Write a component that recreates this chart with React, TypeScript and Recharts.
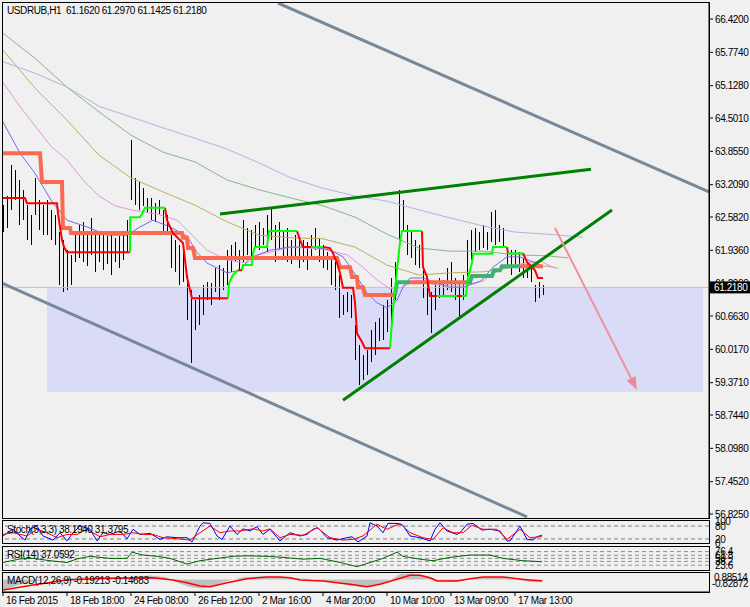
import {
  ComposedChart,
  Bar,
  Line,
  Area,
  XAxis,
  YAxis,
  ReferenceLine,
  ReferenceArea,
} from "recharts";

const FONT = "'Liberation Sans', Arial, sans-serif";
const X_DOMAIN: [number, number] = [-0.25, 176.5];
const PRICE_DOMAIN: [number, number] = [56.748, 66.75];

type Pt = [number, number | null];

// hourly bars, one every 4px
const highs = [
  62.81, 62.99, 63.59, 63.49, 63.3, 63.11, 62.81, 62.62, 63.34, 62.91,
  62.81, 62.91, 62.72, 62.62, 62.29, 62.14, 61.94, 61.84, 62.29, 62.43,
  62.49, 62.29, 62.56, 62.33, 62.25, 62.29, 62.21, 62.29, 62.18, 62.21,
  62.27, 62.52, 64.07, 63.34, 63.26, 63.14, 62.95, 62.95, 62.85, 62.91,
  62.72, 62.62, 62.37, 62.14, 62.04, 61.94, 61.46, 61.17, 60.97, 61.07,
  61.26, 61.32, 61.3, 61.59, 61.65, 61.59, 61.94, 62.04, 62.1, 61.94,
  62.52, 62.37, 62.33, 62.43, 62.49, 62.37, 62.62, 62.76, 62.43, 62.49,
  62.33, 62.37, 62.14, 62.23, 62.18, 62.14, 62.1, 62.23, 62.37, 62.18,
  62.04, 61.9, 61.79, 61.71, 61.46, 61.07, 61.13, 61.07, 60.49, 60.1,
  59.91, 60.01, 60.39, 60.55, 60.63, 60.88, 60.97, 61.4, 61.71, 63.11,
  62.91, 62.43, 62.33, 62.14, 62.04, 61.59, 61.36, 61.13, 61.32, 61.4,
  61.36, 61.59, 61.71, 61.4, 61.32, 61.46, 62.14, 62.33, 62.37, 62.29,
  62.43, 62.29, 62.68, 62.72, 62.43, 62.37, 61.94, 61.94, 61.94, 61.9,
  61.79, 61.71, 61.59, 61.26, 61.32, 61.26,
];
const lows = [
  62.29, 62.37, 62.72, 62.91, 62.43, 62.52, 62.14, 62.04, 62.62, 62.33,
  62.23, 62.23, 62.14, 62.04, 61.26, 61.13, 61.17, 61.26, 61.71, 61.79,
  61.71, 61.63, 61.84, 61.52, 61.71, 61.56, 61.67, 61.46, 61.71, 61.59,
  61.75, 61.9, 62.91, 62.81, 62.72, 62.79, 62.66, 62.52, 62.49, 62.64,
  62.29, 62.23, 61.59, 61.52, 61.26, 61.32, 60.59, 59.75, 60.39, 60.49,
  60.68, 60.97, 60.88, 61.13, 60.97, 61.17, 61.26, 61.52, 61.71, 61.56,
  61.71, 61.84, 61.75, 61.98, 61.94, 62.04, 61.9, 62.14, 61.71, 61.94,
  61.79, 61.71, 61.67, 61.79, 61.59, 61.71, 61.56, 61.79, 61.94, 61.71,
  61.59, 61.56, 61.26, 61.17, 60.63, 60.68, 60.74, 60.63, 59.81, 59.33,
  59.42, 59.52, 59.78, 59.91, 60.17, 60.2, 60.36, 60.55, 60.97, 62.14,
  62.29, 61.84, 61.79, 61.65, 61.59, 61.01, 60.68, 60.33, 60.78, 61.01,
  61.05, 61.17, 61.13, 60.97, 60.63, 60.97, 61.32, 61.75, 61.9, 61.94,
  61.98, 61.94, 62.1, 62.04, 62.1, 61.98, 61.59, 61.46, 61.65, 61.52,
  61.4, 61.4, 61.32, 60.93, 61.01, 61.07,
];
const lastPrice = 61.218;

const priceTicks = [
  66.42, 65.774, 65.128, 64.501, 63.855, 63.209, 62.582, 61.936, 61.29,
  60.663, 60.017, 59.371, 58.744, 58.098, 57.452, 56.825,
];
const timeTicks = [0, 16, 32, 48, 64, 80, 96, 112, 128];
const timeLabels = [
  "16 Feb 2015", "18 Feb 18:00", "24 Feb 08:00", "26 Feb 12:00", "2 Mar 16:00",
  "4 Mar 20:00", "10 Mar 10:00", "13 Mar 09:00", "17 Mar 13:00",
];

// moving averages
const maGreen: Pt[] = [
  [-0.25, 66.16], [8, 65.66], [16, 65.1], [24, 64.62], [32, 64.17], [40, 63.84],
  [48, 63.65], [56, 63.3], [64, 63.11], [72, 62.95], [80, 62.8], [88, 62.58],
  [96, 62.25], [104, 61.98], [112, 61.92], [120, 61.92], [128, 61.85], [136, 61.83],
  [141.25, 61.79],
];
const maOlive: Pt[] = [
  [-0.25, 65.84], [8, 65.08], [16, 64.46], [24, 63.78], [32, 63.34], [40, 63.07],
  [48, 62.81], [56, 62.49], [64, 62.23], [72, 62.18], [80, 62.16], [88, 62.0],
  [96, 61.65], [104, 61.46], [112, 61.5], [120, 61.52], [128, 61.61], [136, 61.63],
  [138.75, 61.59],
];
const maLavender: Pt[] = [
  [-0.25, 65.6], [8, 65.37], [16, 65.1], [24, 64.73], [32, 64.52], [40, 64.31],
  [48, 64.11], [56, 63.9], [64, 63.63], [72, 63.34], [80, 63.14], [88, 62.99],
  [96, 62.89], [104, 62.72], [112, 62.56], [120, 62.41], [128, 62.29], [136, 62.25],
  [145, 62.19],
];
const maPink: Pt[] = [
  [-0.25, 65.22], [4, 64.75], [8, 64.35], [12, 63.95], [16, 63.69], [20, 63.3],
  [24, 62.99], [28, 62.8], [32, 62.72], [38.5, 62.64], [43.5, 62.52], [46.75, 62.27],
  [51, 61.94], [56, 61.75], [61, 61.69], [64, 61.85], [72, 62.0], [80, 61.96],
  [86, 61.85], [90, 61.61], [93.5, 61.36], [96.75, 61.19], [99.25, 61.21],
  [103.5, 61.36], [108.5, 61.26], [115, 61.26], [120, 61.34], [122, 61.46],
  [126, 61.63], [134.25, 61.73], [138, 61.59],
];
const maPurple: Pt[] = [
  [-0.25, 64.46], [4.25, 63.82], [8, 63.43], [12, 62.91], [16, 62.52], [21, 62.39],
  [26, 62.23], [31, 62.23], [34.25, 62.39], [37.5, 62.52], [41.75, 62.39],
  [46, 62.21], [48.5, 61.9], [51, 61.69], [56, 61.5], [59.25, 61.55], [61.75, 61.79],
  [66.75, 61.94], [71.75, 62.0], [77.5, 62.0], [81.75, 61.94], [85, 61.81],
  [88.5, 61.42], [91, 61.11], [93.5, 60.92], [96, 60.82], [98.5, 60.97], [100, 61.22],
  [101.75, 61.4], [105, 61.4], [108.5, 61.3], [111.75, 61.22], [115, 61.22],
  [119.5, 61.34], [122.5, 61.61], [126, 61.81], [129.25, 61.81], [132.5, 61.71],
  [134.25, 61.65],
];

// base line (thick) and conversion line (thin), split by colour
const kijunDown: Pt[] = [
  [-0.25, 63.82], [9.25, 63.82], [9.75, 63.26], [14.75, 63.26], [15, 62.37],
  [16.75, 62.37], [17, 62.27], [44.75, 62.27], [45, 62.18], [46, 62.18],
  [46.25, 61.98], [47.5, 61.98], [48, 61.79], [83.5, 61.79], [84.25, 61.61],
  [86.75, 61.61], [87.25, 61.42], [88.5, 61.42], [88.75, 61.22], [90, 61.22],
  [90.5, 61.07], [98, 61.07], [99, null],
  [101.75, 61.32], [115.5, 61.32], [116, null],
  [129.25, 61.63], [135, 61.63],
];
const kijunUp: Pt[] = [
  [98, 61.07], [98.5, 61.32], [101.75, 61.32], [102, null],
  [115.5, 61.32], [116.75, 61.32], [117.25, 61.44], [122.25, 61.44], [122.75, 61.55],
  [124.25, 61.55], [124.75, 61.63], [129.25, 61.63],
];
const tenkanDown: Pt[] = [
  [-0.25, 62.95], [5.5, 62.95], [6, 62.85], [13.5, 62.85], [13.75, 62.66],
  [14.25, 62.39], [14.75, 62.14], [15.25, 62.0], [16, 61.9], [31.75, 61.9], [32, null],
  [40.5, 62.76], [41, 62.52], [41.75, 62.39], [42.5, 62.27], [45, 62.08],
  [45.5, 61.75], [46, 61.42], [46.75, 61.17], [47.25, 61.01], [56.25, 61.01], [57, null],
  [58.75, 61.55], [59.75, 61.55], [59.9, null],
  [73.5, 62.31], [74.25, 62.14], [75, 62.0], [77, 62.0], [78, null],
  [80, 62.0], [81.75, 61.98], [82.5, 61.88], [83.5, 61.69], [84.25, 61.5],
  [85, 61.21], [87.5, 61.21], [88, 60.93], [88.5, 60.33], [89.75, 60.16],
  [90.5, 60.04], [96.75, 60.04], [97, null],
  [104.75, 62.31], [105, 61.61], [106, 61.42], [106.75, 61.05], [108.5, 61.05], [109, null],
  [113.5, 61.05], [114.75, 61.05], [115, null],
  [126, 62.0], [126.25, 61.88], [127, null],
  [130, 61.88], [131, 61.71], [131.75, 61.65], [133, 61.55], [133.75, 61.4], [135, 61.4],
];
const tenkanUp: Pt[] = [
  [31.75, 61.9], [31.8, 62.58], [34.25, 62.58], [34.75, 62.64], [35.5, 62.76],
  [40.5, 62.76], [41, null],
  [56.25, 61.01], [56.5, 61.3], [57.5, 61.46], [58.75, 61.55], [59, null],
  [59.75, 61.55], [60, 61.65], [62.25, 61.65], [62.5, 61.88], [63, 62.0], [66, 62.0],
  [66.5, 62.31], [73.5, 62.31], [74, null],
  [77, 62.0], [80, 62.0], [80.5, null],
  [96.75, 60.04], [97.5, 60.78], [98.5, 61.55], [99.25, 62.1], [99.75, 62.31],
  [104.75, 62.31], [105, null],
  [108.5, 61.05], [113.5, 61.05], [114, null],
  [114.75, 61.05], [115.75, 61.05], [116.25, 61.42], [117.25, 61.69], [117.5, 61.87],
  [122.25, 61.87], [122.5, 62.0], [126, 62.0], [126.1, null],
  [126.25, 61.88], [130, 61.88],
];

// drawn objects
const upperTrend: Pt[] = [[54.25, 62.64], [147, 63.51]];
const lowerTrend: Pt[] = [[85, 59.03], [152.25, 62.72]];
const channelTop: Pt[] = [[68.75, 66.73], [176.5, 63.07]];
const channelBottom: Pt[] = [[-0.25, 61.3], [131, 56.77]];
const forecast: Pt[] = [[138, 62.37], [158.5, 59.23]];
const targetZone = { from: 11, to: 175, low: 59.19, high: 61.207 };

// Stochastic (5,3,3)
const stochMain: Pt[] = [
  [0, 34], [1.75, 57], [2.5, 65], [4.25, 34], [5.5, 15], [6.75, 66], [8.5, 80],
  [10, 34], [12.5, 15], [14.25, 49], [16, 11], [17.5, 49], [19.25, 80], [21.75, 65],
  [23.5, 11], [25, 49], [26.75, 41], [29.25, 57], [31, 21], [32.5, 65], [34.25, 41],
  [36.75, 46], [39.25, 18], [41, 30], [43.5, 26], [46, 26], [47.25, 6], [49.25, 80],
  [50, 95], [51.75, 92], [53.5, 34], [54.75, 18], [56.75, 80], [58.5, 41], [60, 67],
  [61.75, 57], [63.5, 77], [65, 41], [66.75, 65], [69.25, 11], [71.75, 49],
  [74.25, 34], [76, 41], [77.5, 65], [78.75, 72], [81, 26], [83.5, 15], [86, 26],
  [87.25, 30], [88.75, 6], [91, 34], [91.75, 95], [93.5, 80], [95, 49], [96.25, 92],
  [98.5, 92], [100, 83], [101.75, 34], [104.25, 26], [106.75, 11], [108, 65],
  [109.25, 95], [111, 57], [113.5, 41], [114.25, 49], [116, 88], [117.5, 92],
  [119.75, 61], [121.75, 65], [124.25, 57], [126, 11], [126.75, 11], [129.25, 80],
  [131, 18], [132.5, 15], [133.5, 30], [134.75, 38],
];
const stochSignal: Pt[] = [
  [0, 41], [2.5, 49], [6, 34], [8.5, 65], [11, 49], [13.5, 26], [16, 41], [18.5, 41],
  [21, 65], [24.25, 30], [26.75, 41], [30, 41], [32.5, 49], [35, 41], [37.5, 41],
  [40, 26], [43.5, 21], [46.75, 15], [49.25, 49], [51.75, 80], [54.25, 49],
  [56.75, 57], [59.25, 57], [62.5, 67], [65, 57], [66.75, 67], [69.25, 26],
  [71.75, 41], [75, 37], [78.5, 72], [81.75, 26], [85, 15], [87.5, 18], [90, 34],
  [93.5, 88], [96, 65], [99.25, 92], [101.75, 49], [105, 26], [107.5, 18], [110, 72],
  [112.5, 49], [115, 49], [117.25, 83], [120, 65], [123.5, 65], [126, 18],
  [129.25, 65], [131.75, 26], [134.75, 31],
];
const stochLevels = [80, 20];

// RSI(14)
const rsi: Pt[] = [
  [0, 34], [4.25, 48], [7.5, 50], [11.75, 41], [16, 34], [18.5, 48], [21.75, 58],
  [26.75, 50], [31, 50], [32.25, 74], [35, 63], [38.5, 58], [41.75, 50], [46, 28],
  [49.25, 41], [53.5, 50], [57.5, 58], [61, 60], [66, 58], [70, 54], [75, 47],
  [79.25, 50], [83.5, 37], [88.5, 18], [91.75, 34], [95, 50], [98.5, 74], [100, 58],
  [104.25, 47], [107.5, 41], [111.75, 54], [116.75, 63], [121.75, 63], [125, 50],
  [130, 41], [134.75, 37],
];
const rsiLevels = [76.4, 61.8, 50, 38.2, 23.6];

// MACD(12,26,9)
const macdMain: Pt[] = [
  [0, -1.05], [3, -0.65], [8, -0.15], [16, 0.15], [24.25, 0.25], [32.5, 0.25],
  [36.75, 0.4], [40.5, 0.25], [43.75, -0.35], [46.75, -0.75], [50, -0.9], [53, -0.55],
  [56.75, -0.05], [60.5, 0.25], [65.5, 0.3], [71.75, 0.2], [76.75, 0.05], [82.5, -0.25],
  [86.75, -0.6], [90.5, -0.8], [94.25, -0.45], [96.75, -0.05], [99.25, 0.55],
  [102.25, 0.63], [105.5, 0.35], [109.25, -0.05], [113, -0.25], [116.25, 0.05],
  [121.25, 0.3], [125.5, 0.2], [128.75, -0.05], [131.75, -0.25], [135, -0.19],
];
const macdSignal: Pt[] = [
  [0, -1.05], [7.5, -0.55], [16, -0.05], [24.25, 0.1], [32.5, 0.15], [37.5, 0.18],
  [42.5, -0.05], [46, -0.32], [49.25, -0.65], [51.75, -0.72], [56, -0.32], [61, 0.08],
  [66, 0.25], [69.25, 0.25], [71.75, 0.18], [74.25, -0.05], [80, -0.15], [83.5, -0.32],
  [86.75, -0.48], [91, -0.72], [94.25, -0.48], [98.5, 0.02], [101.75, 0.42],
  [104.25, 0.42], [106.75, 0.18], [108.5, -0.15], [113.5, -0.15], [116.75, 0.08],
  [120, 0.25], [125, 0.25], [128.5, 0.08], [131.75, -0.05], [134.75, -0.15],
];

const rows = (pts: Pt[]) => pts.map(([i, v]) => ({ i, v }));
const seg = (pts: Pt[]) => pts.map(([x, y]) => ({ x, y: y as number }));
const bars = highs.map((h, i) => ({ i, hl: [lows[i], h] }));

const line = (key: string, pts: Pt[], color: string, width: number) => (
  <Line
    key={key}
    data={rows(pts)}
    dataKey="v"
    type="linear"
    stroke={color}
    strokeWidth={width}
    dot={false}
    activeDot={false}
    connectNulls={false}
    isAnimationActive={false}
  />
);

const textStyle = { fontSize: 10, fontFamily: FONT, fill: "#000", letterSpacing: "-0.4px" };

// the last price is drawn last, as a black tag over the scale
const PriceTick = (props: any) => {
  const { x, y, payload } = props;
  if (payload.value === lastPrice) {
    return (
      <g>
        <rect x={x - 5} y={y - 6} width={40} height={12} fill="#000" />
        <text x={x - 1} y={y} dy="0.36em" style={{ ...textStyle, fill: "#fff" }}>
          {lastPrice.toFixed(4)}
        </text>
      </g>
    );
  }
  return (
    <text x={x} y={y} dy="0.36em" style={textStyle}>
      {Number(payload.value).toFixed(4)}
    </text>
  );
};

const LevelTick = (props: any) => {
  const { x, y, payload } = props;
  return (
    <text x={x} y={y} dy="0.36em" style={textStyle}>
      {payload.value}
    </text>
  );
};

const TimeTick = (props: any) => {
  const { x, y, payload } = props;
  return (
    <text x={x + 3} y={y} dy={8} style={textStyle}>
      {timeLabels[timeTicks.indexOf(payload.value)]}
    </text>
  );
};

const ArrowShape = (p: any) => {
  const { x1, y1, x2, y2 } = p;
  const a = Math.atan2(y2 - y1, x2 - x1);
  const bx = x2 - 13 * Math.cos(a);
  const by = y2 - 13 * Math.sin(a);
  const w = 5;
  const pts = `${x2},${y2} ${bx + w * Math.sin(a)},${by - w * Math.cos(a)} ${bx - w * Math.sin(a)},${by + w * Math.cos(a)}`;
  return (
    <g>
      <line x1={x1} y1={y1} x2={bx} y2={by} stroke="#f0909a" strokeWidth={2} />
      <polygon points={pts} fill="#ee8a94" />
    </g>
  );
};

const Stick = (p: any) => (
  <rect x={Math.round(p.x + p.width / 2)} y={p.y} width={1} height={Math.max(p.height, 1)} fill="#000" shapeRendering="crispEdges" />
);

const frame = (top: number, height: number) => ({
  position: "absolute" as const,
  left: 2,
  top,
  width: 708,
  height,
  border: "1px solid #000",
  boxSizing: "border-box" as const,
  pointerEvents: "none" as const,
});

const caption = (left: number, top: number) => ({
  position: "absolute" as const,
  left,
  top,
  fontSize: 10,
  lineHeight: "11px",
  letterSpacing: "-0.4px",
  fontFamily: FONT,
  color: "#000",
  whiteSpace: "pre" as const,
});

export default function App() {
  return (
    <div
      style={{
        position: "absolute",
        left: 0,
        top: 0,
        width: 750,
        height: 607,
        background: "#f0f0f0",
        overflow: "hidden",
        fontFamily: FONT,
      }}
    >
      <div style={{ position: "absolute", left: 0, top: 0 }}>
        <ComposedChart
          width={750}
          height={520}
          data={bars}
          margin={{ top: 2, right: 0, bottom: 2, left: 2 }}
        >
          <XAxis type="number" dataKey="i" domain={X_DOMAIN} allowDataOverflow hide />
          <YAxis
            orientation="right"
            domain={PRICE_DOMAIN}
            allowDataOverflow
            ticks={[...priceTicks, lastPrice]}
            interval={0}
            width={41}
            tick={PriceTick}
            tickSize={4}
            tickMargin={2}
            axisLine={{ stroke: "#000" }}
            tickLine={{ stroke: "#000" }}
          />
          <ReferenceArea
            x1={targetZone.from}
            x2={targetZone.to}
            y1={targetZone.low}
            y2={targetZone.high}
            fill="#dadbf7"
            fillOpacity={1}
            stroke="none"
            ifOverflow="hidden"
          />
          <ReferenceLine y={lastPrice} stroke="#c4c4c4" />
          <ReferenceLine segment={seg(channelTop)} stroke="#778899" strokeWidth={3} ifOverflow="hidden" />
          <ReferenceLine segment={seg(channelBottom)} stroke="#778899" strokeWidth={3} ifOverflow="hidden" />
          {line("green", maGreen, "#86b886", 1)}
          {line("olive", maOlive, "#bcae62", 1)}
          {line("lavender", maLavender, "#b4b2e0", 1)}
          {line("pink", maPink, "#e396e3", 1)}
          {line("purple", maPurple, "#7f66e6", 1)}
          <Bar dataKey="hl" barSize={1} fill="#000" shape={Stick} isAnimationActive={false} />
          {line("kijunDown", kijunDown, "#fb6a50", 4)}
          {line("kijunUp", kijunUp, "#3cb371", 4)}
          {line("tenkanDown", tenkanDown, "#ff0000", 2)}
          {line("tenkanUp", tenkanUp, "#00ff00", 2)}
          <ReferenceLine segment={seg(upperTrend)} stroke="#008000" strokeWidth={3} ifOverflow="hidden" />
          <ReferenceLine segment={seg(lowerTrend)} stroke="#008000" strokeWidth={3} ifOverflow="hidden" />
          <ReferenceLine segment={seg(forecast)} ifOverflow="visible" shape={ArrowShape} />
        </ComposedChart>
      </div>

      <div style={{ position: "absolute", left: 0, top: 514 }}>
        <ComposedChart width={750} height={36} margin={{ top: 7.7, right: 0, bottom: 6.7, left: 2 }}>
          <XAxis type="number" dataKey="i" domain={X_DOMAIN} allowDataOverflow hide />
          <YAxis
            orientation="right"
            domain={[0, 100]}
            ticks={[100, 80, 20, 0]}
            interval={0}
            width={41}
            tick={LevelTick}
            tickSize={4}
            tickMargin={2}
            axisLine={false}
            tickLine={false}
          />
          {stochLevels.map((l) => (
            <ReferenceLine key={l} y={l} stroke="#808080" strokeDasharray="4 3" />
          ))}
          {line("stochMain", stochMain, "#0000ff", 1)}
          {line("stochSignal", stochSignal, "#ff0000", 1)}
        </ComposedChart>
      </div>

      <div style={{ position: "absolute", left: 0, top: 540 }}>
        <ComposedChart width={750} height={36} margin={{ top: 6, right: 0, bottom: 6, left: 2 }}>
          <XAxis type="number" dataKey="i" domain={X_DOMAIN} allowDataOverflow hide />
          <YAxis
            orientation="right"
            domain={[5, 98]}
            ticks={rsiLevels}
            interval={0}
            width={41}
            tick={LevelTick}
            tickSize={4}
            tickMargin={2}
            axisLine={false}
            tickLine={false}
          />
          {rsiLevels.map((l) => (
            <ReferenceLine key={l} y={l} stroke="#909090" strokeDasharray="4 3" />
          ))}
          {line("rsi", rsi, "#006400", 1)}
        </ComposedChart>
      </div>

      <div style={{ position: "absolute", left: 0, top: 566 }}>
        <ComposedChart width={750} height={41} margin={{ top: 6, right: 0, bottom: 0, left: 2 }}>
          <XAxis
            type="number"
            dataKey="i"
            domain={X_DOMAIN}
            allowDataOverflow
            ticks={timeTicks}
            interval={0}
            height={15}
            tick={TimeTick}
            tickSize={4}
            tickMargin={0}
            axisLine={{ stroke: "#000" }}
            tickLine={{ stroke: "#000" }}
          />
          <YAxis orientation="right" domain={[-1.25, 0.75]} allowDataOverflow width={41} tick={false} axisLine={false} tickLine={false} />
          <Area
            data={rows(macdMain)}
            dataKey="v"
            type="linear"
            baseValue={0}
            fill="#c0c0c0"
            fillOpacity={1}
            stroke="none"
            dot={false}
            activeDot={false}
            isAnimationActive={false}
          />
          {line("macdSignal", macdSignal, "#ff0000", 1.5)}
        </ComposedChart>
      </div>

      <div style={frame(2, 517)} />
      <div style={frame(520, 24)} />
      <div style={frame(546, 25)} />
      <div style={frame(572, 21)} />

      <div style={caption(7, 5)}>USDRUB,H1  61.1620 61.2970 61.1425 61.2180</div>
      <div style={caption(7, 524)}>Stoch(5,3,3) 38.1940 31.3795</div>
      <div style={caption(7, 549)}>RSI(14) 37.0592</div>
      <div style={caption(7, 575)}>MACD(12,26,9) -0.19213 -0.14683</div>
      <div style={caption(714, 572)}>0.88514</div>
      <div style={caption(712, 578)}>-0.82872</div>
    </div>
  );
}
